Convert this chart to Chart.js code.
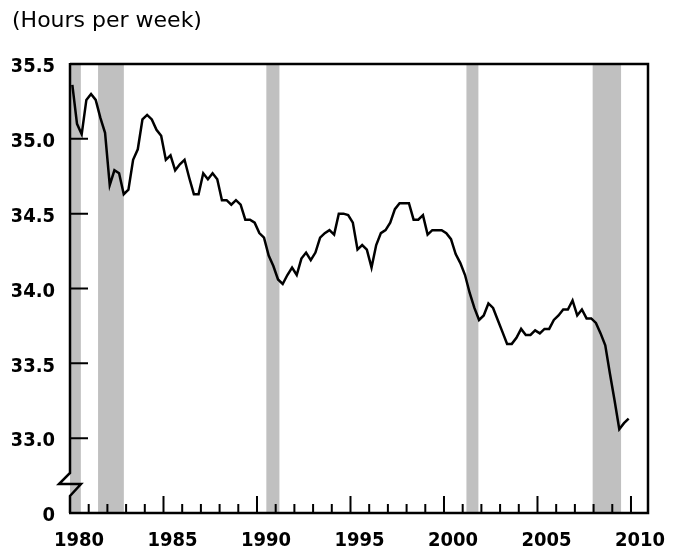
<!DOCTYPE html>
<html>
<head>
<meta charset="utf-8">
<script src="https://cdn.jsdelivr.net/npm/chart.js@4.4.0/dist/chart.umd.min.js"></script>
<style>
    html, body { margin: 0; padding: 0; background: #fff; }
</style>
</head>
<body>
<canvas id="hours" width="673" height="550"></canvas>
<script>
// quarterly average weekly hours, first quarter of 1980 onward
const firstYear = 1980;
const hours1980s = [
    35.36, 35.10, 35.03, 35.26,
    35.30, 35.26, 35.14, 35.04,
    34.69, 34.79, 34.77, 34.63,
    34.66, 34.86, 34.93, 35.13,
    35.16, 35.13, 35.06, 35.02,
    34.86, 34.89, 34.79, 34.83,
    34.86, 34.74, 34.63, 34.63,
    34.77, 34.73, 34.77, 34.73,
    34.59, 34.59, 34.56, 34.59,
    34.56, 34.46, 34.46, 34.44
];
const hours1990s = [
    34.37, 34.34, 34.22, 34.15,
    34.06, 34.03, 34.09, 34.14,
    34.09, 34.20, 34.24, 34.19,
    34.24, 34.34, 34.37, 34.39,
    34.36, 34.50, 34.50, 34.49,
    34.44, 34.26, 34.29, 34.26,
    34.14, 34.29, 34.37, 34.39,
    34.44, 34.53, 34.57, 34.57,
    34.57, 34.46, 34.46, 34.49,
    34.36, 34.39, 34.39, 34.39
];
const hours2000s = [
    34.37, 34.33, 34.23, 34.17,
    34.09, 33.97, 33.87, 33.79,
    33.82, 33.90, 33.87, 33.79,
    33.71, 33.63, 33.63, 33.67,
    33.73, 33.69, 33.69, 33.72,
    33.70, 33.73, 33.73, 33.79,
    33.82, 33.86, 33.86, 33.92,
    33.82, 33.86, 33.80, 33.80,
    33.77, 33.70, 33.62, 33.43,
    33.25, 33.06, 33.10, 33.13
];

// recessions (shaded), in fractional years
const recessionStart = [1980.0, 1981.5, 1990.5, 2001.2, 2007.95];
const recessionEnd = [1980.58, 1982.88, 1991.2, 2001.84, 2009.47];

const yTickValues = [32.5, 33.0, 33.5, 34.0, 34.5, 35.0, 35.5];
const xTickYears = [];
for (let yr = 1980; yr <= 2010; yr++) xTickYears.push(yr);
const xLabelYears = [1980, 1985, 1990, 1995, 2000, 2005, 2010];

const allHours = hours1980s.concat(hours1990s, hours2000s);
const points = allHours.map((v, i) => ({ x: firstYear + i / 4 + 0.125, y: v }));

const tickFont = { family: '"DejaVu Sans Condensed", "Liberation Sans", sans-serif', size: 20, weight: 'bold' };

const axisFrame = {
    id: 'axisFrame',
    beforeDatasetsDraw(chart) {
        const { ctx, chartArea: a, scales: { x } } = chart;
        ctx.save();
        ctx.fillStyle = '#c0c0c0';
        recessionStart.forEach((s, i) => {
            const x1 = Math.max(a.left, x.getPixelForValue(s));
            const x2 = x.getPixelForValue(recessionEnd[i]);
            ctx.fillRect(x1, a.top, x2 - x1, a.bottom - a.top);
        });
        ctx.restore();
    },
    afterDatasetsDraw(chart) {
        const { ctx, chartArea: a, scales: { x, y } } = chart;
        ctx.save();
        ctx.strokeStyle = '#000';
        ctx.lineWidth = 2.5;
        ctx.lineCap = 'butt';

        // top, right and bottom frame
        ctx.beginPath();
        ctx.moveTo(a.left, a.top);
        ctx.lineTo(a.right, a.top);
        ctx.lineTo(a.right, a.bottom);
        ctx.lineTo(a.left - 1, a.bottom);
        ctx.stroke();

        // left axis with the break symbol
        const yb = y.getPixelForValue(yTickValues[0]);
        ctx.beginPath();
        ctx.moveTo(a.left, a.top - 1);
        ctx.lineTo(a.left, yb - 40);
        ctx.lineTo(a.left - 11, yb - 29);
        ctx.lineTo(a.left + 11, yb - 29);
        ctx.lineTo(a.left, yb - 17);
        ctx.lineTo(a.left, yb);
        ctx.stroke();

        // inward tick marks
        ctx.lineWidth = 2;
        ctx.beginPath();
        y.ticks.forEach((t) => {
            if (t.value === yTickValues[0]) return;
            const py = y.getPixelForValue(t.value);
            ctx.moveTo(a.left, py);
            ctx.lineTo(a.left + 18, py);
        });
        x.ticks.forEach((t) => {
            if (t.value === firstYear) return;
            const px = x.getPixelForValue(t.value);
            const len = t.value % 5 === 0 ? 17 : 9;
            ctx.moveTo(px, a.bottom);
            ctx.lineTo(px, a.bottom - len);
        });
        ctx.stroke();
        ctx.restore();
    }
};

const hoursChart = new Chart(document.getElementById('hours'), {
    type: 'line',
    data: {
        datasets: [
            {
                label: 'Average weekly hours',
                data: points,
                borderColor: '#000',
                borderWidth: 2.5,
                pointRadius: 0,
                tension: 0,
                fill: false,
            },
        ],
    },
    options: {
        responsive: false,
        animation: false,
        layout: {
            padding: { left: 12, right: 25, top: 0, bottom: 0 },
        },
        plugins: {
            legend: { display: false },
            tooltip: { enabled: false },
            title: {
                display: true,
                text: '(Hours per week)',
                align: 'start',
                color: '#000',
                font: { family: '"DejaVu Sans", sans-serif', size: 22, weight: 'normal', lineHeight: 1.2 },
                padding: { top: 8, bottom: 29.6 },
            },
        },
        scales: {
            x: {
                type: 'linear',
                min: 1980,
                max: 2010.91,
                afterBuildTicks: (scale) => {
                    scale.ticks = xTickYears.map((v) => ({ value: v }));
                },
                afterFit: (scale) => {
                    scale.height = 37;
                },
                grid: { display: false, drawTicks: false },
                border: { display: false },
                ticks: {
                    autoSkip: false,
                    maxRotation: 0,
                    minRotation: 0,
                    labelOffset: 9,
                    padding: 16,
                    color: '#000',
                    font: tickFont,
                    callback: (v) => (xLabelYears.includes(v) ? String(v) : ''),
                },
            },
            y: {
                min: 32.5,
                max: 35.5,
                afterBuildTicks: (scale) => {
                    scale.ticks = yTickValues.map((v) => ({ value: v }));
                },
                afterFit: (scale) => {
                    scale.width = 58;
                },
                grid: { display: false, drawTicks: false },
                border: { display: false },
                ticks: {
                    padding: 15,
                    labelOffset: 3,
                    color: '#000',
                    font: tickFont,
                    callback: (v) => (v === yTickValues[0] ? '0' : v.toFixed(1)),
                },
            },
        },
    },
    plugins: [axisFrame],
});
</script>
</body>
</html>
